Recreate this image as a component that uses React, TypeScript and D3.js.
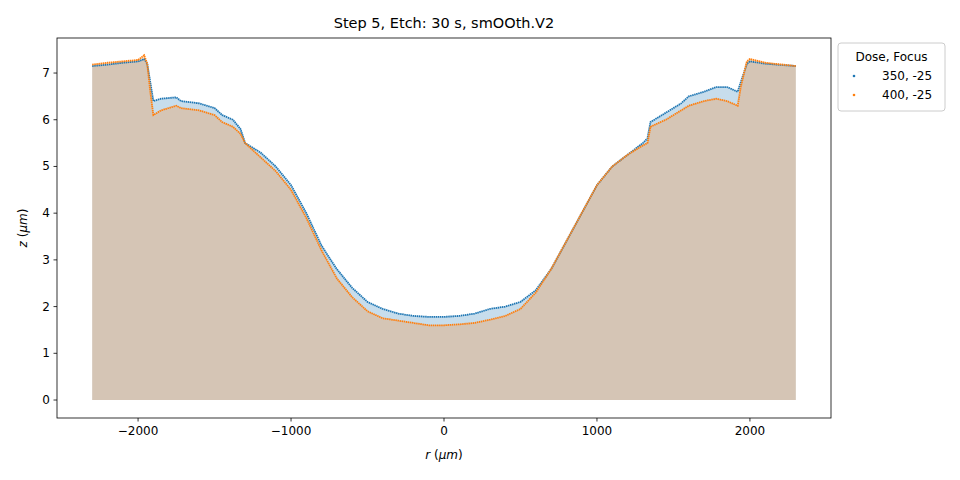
import React from "react";
import * as d3 from "d3";

const radius = [-2300, -2200, -2100, -2000, -1960, -1940, -1920, -1900, -1850, -1750, -1720, -1600, -1500, -1450, -1380, -1330, -1300, -1200, -1100, -1000, -900, -800, -700, -600, -500, -400, -300, -200, -100, 0, 100, 200, 300, 400, 500, 600, 700, 800, 900, 1000, 1100, 1200, 1300, 1330, 1350, 1450, 1550, 1600, 1700, 1780, 1850, 1920, 1940, 1980, 2000, 2100, 2300];
const z350 = [7.15, 7.18, 7.22, 7.25, 7.3, 7.2, 6.8, 6.4, 6.45, 6.48, 6.4, 6.35, 6.25, 6.1, 6.0, 5.8, 5.5, 5.3, 5.0, 4.6, 4.0, 3.3, 2.8, 2.4, 2.1, 1.95, 1.85, 1.8, 1.78, 1.78, 1.8, 1.85, 1.95, 2.0, 2.1, 2.35, 2.8, 3.4, 4.0, 4.6, 5.0, 5.25, 5.5, 5.6, 5.95, 6.15, 6.35, 6.5, 6.6, 6.7, 6.7, 6.6, 6.8, 7.2, 7.25, 7.2, 7.15];
const z400 = [7.18, 7.22, 7.25, 7.28, 7.38, 7.2, 6.6, 6.1, 6.2, 6.3, 6.25, 6.2, 6.1, 5.95, 5.85, 5.7, 5.5, 5.2, 4.9, 4.5, 3.9, 3.2, 2.6, 2.2, 1.9, 1.75, 1.7, 1.65, 1.6, 1.6, 1.62, 1.65, 1.72, 1.8, 1.95, 2.3, 2.8, 3.4, 4.0, 4.6, 5.0, 5.25, 5.45, 5.5, 5.85, 6.0, 6.2, 6.3, 6.4, 6.45, 6.4, 6.3, 6.7, 7.25, 7.3, 7.22, 7.15];
const seriesNames = ["350, -25", "400, -25"];
const colors = ["#1f77b4", "#ff7f0e"];
const xTicks = [-2000, -1000, 0, 1000, 2000];
const yTicks = [0, 1, 2, 3, 4, 5, 6, 7];

export default function App() {
  const left = 57, right = 831, top = 38, bottom = 418;
  const x = d3.scaleLinear().domain([-2530, 2530]).range([left, right]);
  const y = d3.scaleLinear().domain([-0.385, 7.75]).range([bottom, top]);
  const series = [z350, z400];
  const line = d3.line<number>().x((_, i) => x(radius[i])).y((d) => y(d));
  const area = d3.area<number>().x((_, i) => x(radius[i])).y0(y(0)).y1((d) => y(d));
  const font = "DejaVu Sans, sans-serif";
  return (
    <svg width={960} height={480} style={{ position: "absolute", left: 0, top: 0 }} fontFamily={font}>
      <rect width={960} height={480} fill="#fff" />
      {series.map((s, k) => (
        <path key={"a" + k} d={area(s)!} fill={colors[k]} fillOpacity={0.25} />
      ))}
      {series.map((s, k) => (
        <path key={"l" + k} d={line(s)!} fill="none" stroke={colors[k]} strokeWidth={1.8} strokeDasharray="1.5 0.6" />
      ))}
      <rect x={left} y={top} width={right - left} height={bottom - top} fill="none" stroke="#000" strokeWidth={0.8} />
      {xTicks.map((t) => (
        <g key={t}>
          <line x1={x(t)} x2={x(t)} y1={bottom} y2={bottom + 3.5} stroke="#000" strokeWidth={0.8} />
          <text x={x(t)} y={bottom + 17} fontSize={12} textAnchor="middle">{t < 0 ? "\u2212" + -t : t}</text>
        </g>
      ))}
      {yTicks.map((t) => (
        <g key={t}>
          <line x1={left - 3.5} x2={left} y1={y(t)} y2={y(t)} stroke="#000" strokeWidth={0.8} />
          <text x={left - 7} y={y(t) + 4} fontSize={12} textAnchor="end">{t}</text>
        </g>
      ))}
      <text x={(left + right) / 2} y={28} fontSize={14.5} textAnchor="middle">Step 5, Etch: 30 s, smOOth.V2</text>
      <text x={(left + right) / 2} y={459} fontSize={12} textAnchor="middle">
        <tspan fontStyle="italic">r</tspan> (<tspan fontStyle="italic">μm</tspan>)
      </text>
      <text transform={`translate(27,${(top + bottom) / 2}) rotate(-90)`} fontSize={12} textAnchor="middle">
        <tspan fontStyle="italic">z</tspan> (<tspan fontStyle="italic">μm</tspan>)
      </text>
      <g transform="translate(838,43)">
        <rect width={107} height={68} rx={3} fill="#fff" stroke="#ccc" />
        <text x={53.5} y={18} fontSize={12} textAnchor="middle">Dose, Focus</text>
        {seriesNames.map((n, i) => (
          <g key={n} transform={`translate(0,${33 + i * 19})`}>
            <circle cx={16} cy={0} r={1.3} fill={colors[i]} />
            <text x={44} y={4} fontSize={12}>{n}</text>
          </g>
        ))}
      </g>
    </svg>
  );
}
